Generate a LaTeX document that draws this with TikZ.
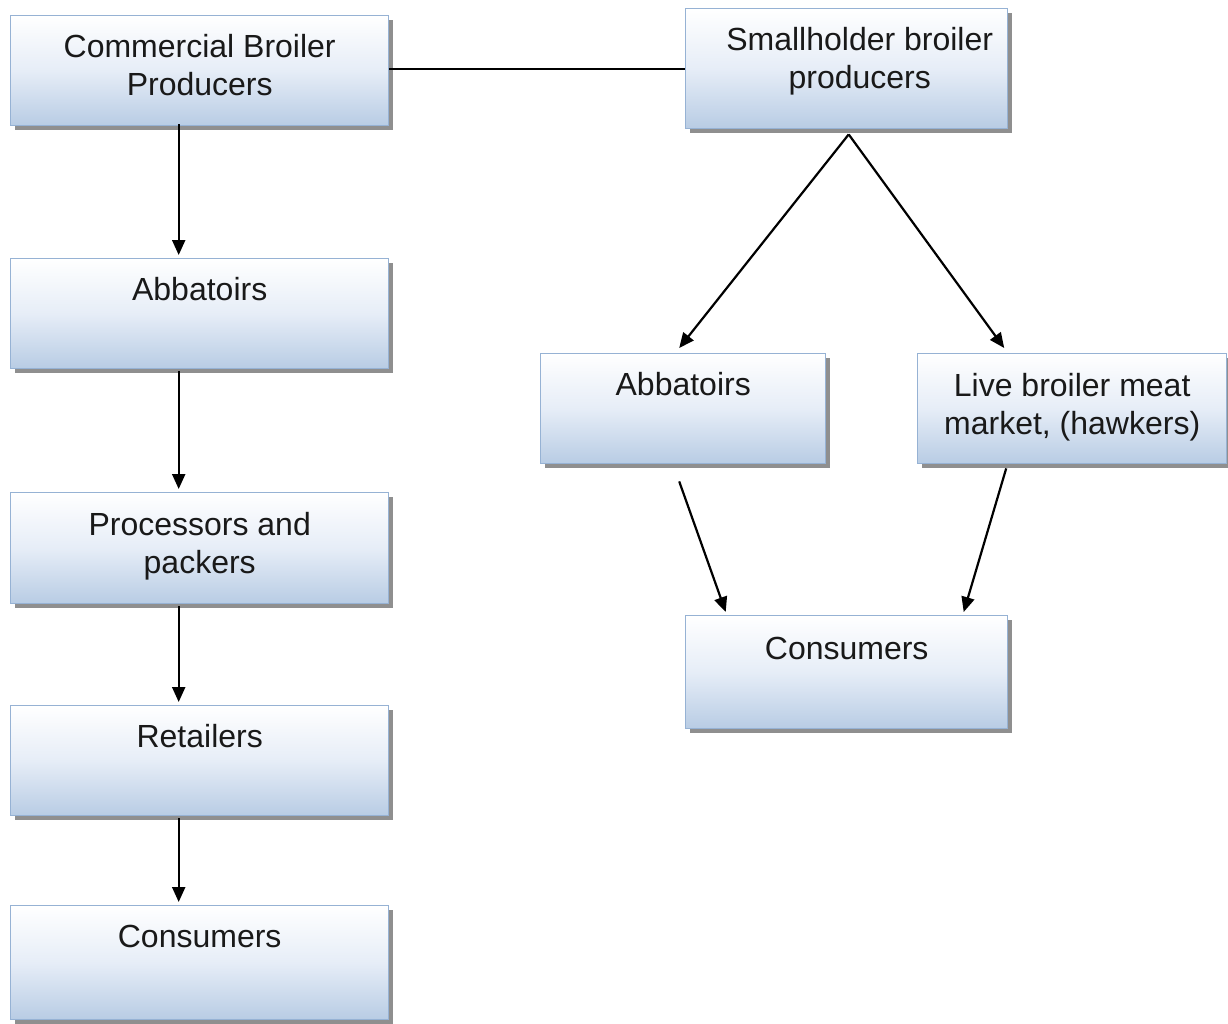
\documentclass[tikz,border=0pt]{standalone}
\usepackage{fontspec}
\setmainfont{Liberation Sans}
\usetikzlibrary{arrows.meta,shadows}
\definecolor{bordc}{RGB}{150,178,212}
\definecolor{boxbot}{RGB}{184,204,228}
\definecolor{boxmid}{RGB}{230,237,247}
\definecolor{txtc}{RGB}{25,25,25}
\tikzset{
  box/.style={draw=bordc, line width=1.4pt, inner sep=0pt, anchor=north west,
    top color=white, bottom color=boxbot, middle color=boxmid,
    drop shadow={shadow xshift=4pt, shadow yshift=-4pt, fill=black!55, opacity=0.8}},
  txt/.style={inner sep=0pt, anchor=base, text=txtc,
    font=\fontsize{32}{38}\selectfont},
  arr/.style={draw=black, line width=2.2pt, -{Triangle[length=15pt,width=13pt]}},
  link/.style={draw=black, line width=2.2pt}
}
\begin{document}
\begin{tikzpicture}[x=1pt,y=1pt]
\useasboundingbox (0,0) rectangle (1228,-1023);
% left column
\node[box, minimum width=378pt, minimum height=110pt] (cbp) at (10,-15) {};
\node[box, minimum width=378pt, minimum height=110pt] (abl) at (10,-258) {};
\node[box, minimum width=378pt, minimum height=111pt] (proc) at (10,-492) {};
\node[box, minimum width=378pt, minimum height=110pt] (ret) at (10,-705) {};
\node[box, minimum width=378pt, minimum height=114pt] (conl) at (10,-905) {};
% right side
\node[box, minimum width=322pt, minimum height=120pt] (sbp) at (685,-8) {};
\node[box, minimum width=285pt, minimum height=110pt] (abr) at (540,-353) {};
\node[box, minimum width=309pt, minimum height=110pt] (live) at (917,-353) {};
\node[box, minimum width=322pt, minimum height=113pt] (conr) at (685,-615) {};
% texts
\node[txt] (tcbp) at ([yshift=-42pt]cbp.north) {\parbox[t]{378pt}{\centering Commercial Broiler\\Producers}};
\node[txt] (tabl) at ([yshift=-42pt]abl.north) {\parbox[t]{378pt}{\centering Abbatoirs}};
\node[txt] (tproc) at ([yshift=-43pt]proc.north) {\parbox[t]{378pt}{\centering Processors and\\packers}};
\node[txt] (tret) at ([yshift=-42pt]ret.north) {\parbox[t]{378pt}{\centering Retailers}};
\node[txt] (tconl) at ([yshift=-42pt]conl.north) {\parbox[t]{378pt}{\centering Consumers}};
\node[txt] (tsbp) at ([xshift=13pt,yshift=-42pt]sbp.north) {\parbox[t]{322pt}{\centering Smallholder broiler\\producers}};
\node[txt] (tabr) at ([yshift=-42pt]abr.north) {\parbox[t]{285pt}{\centering Abbatoirs}};
\node[txt] (tlive) at ([yshift=-43pt]live.north) {\parbox[t]{309pt}{\centering Live broiler meat\\market, (hawkers)}};
\node[txt] (tconr) at ([yshift=-44pt]conr.north) {\parbox[t]{322pt}{\centering Consumers}};
% connectors
\draw[link] (sbp.west -| cbp.east) -- (sbp.west);
\draw[arr] ([xshift=-21pt,yshift=2pt]cbp.south) -- ([xshift=-21pt,yshift=3pt]abl.north);
\draw[arr] ([xshift=-21pt,yshift=-2pt]abl.south) -- ([xshift=-21pt,yshift=3pt]proc.north);
\draw[arr] ([xshift=-21pt,yshift=-2pt]proc.south) -- ([xshift=-21pt,yshift=3pt]ret.north);
\draw[arr] ([xshift=-21pt,yshift=-2pt]ret.south) -- ([xshift=-21pt,yshift=3pt]conl.north);
\draw[arr] ([xshift=2pt,yshift=-5pt]sbp.south) -- ([xshift=-4pt,yshift=5pt]abr.north);
\draw[arr] ([xshift=2pt,yshift=-5pt]sbp.south) -- ([xshift=-68pt,yshift=5pt]live.north);
\draw[arr] ([xshift=-4pt,yshift=-17pt]abr.south) -- ([xshift=-121pt,yshift=3pt]conr.north);
\draw[arr] ([xshift=-66pt,yshift=-4pt]live.south) -- ([xshift=117pt,yshift=3pt]conr.north);
\end{tikzpicture}
\end{document}
